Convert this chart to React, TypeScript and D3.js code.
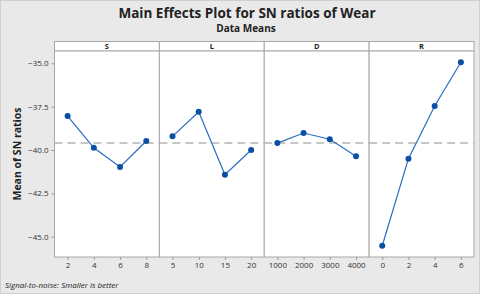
import React, { useEffect, useRef } from 'react';
import * as d3 from 'd3';

const factors = ['S', 'L', 'D', 'R'];
const levels: string[][] = [
  ['2', '4', '6', '8'],
  ['5', '10', '15', '20'],
  ['1000', '2000', '3000', '4000'],
  ['0', '2', '4', '6'],
];
const snS = [-38.04, -39.87, -40.98, -39.48];
const snL = [-39.21, -37.79, -41.42, -40.0];
const snD = [-39.6, -39.02, -39.38, -40.36];
const snR = [-45.52, -40.5, -37.46, -34.94];
const yTicks = [-35.0, -37.5, -40.0, -42.5, -45.0];

const W = 480;
const H = 294;

export default function App() {
  const svgRef = useRef<SVGSVGElement>(null);

  useEffect(() => {
    document.body.style.margin = '0';
    if (!svgRef.current) return;
    const svg = d3.select(svgRef.current);
    svg.selectAll('*').remove();

    const series = [snS, snL, snD, snR];
    const grandMean = d3.mean(series.flat()) as number;
    const font = "'Open Sans', 'DejaVu Sans', sans-serif";

    const left = 54.5, right = 474, stripTop = 41.5, top = 51, bottom = 257;

    svg.append('rect').attr('width', W).attr('height', H).attr('fill', '#e9e9e9');

    // titles
    svg.append('text').attr('x', 247).attr('y', 18).attr('text-anchor', 'middle')
      .style('font-family', font).style('font-size', '13.5px').style('font-weight', 'bold')
      .attr('fill', '#222').text('Main Effects Plot for SN ratios of Wear');
    svg.append('text').attr('x', 246).attr('y', 32).attr('text-anchor', 'middle')
      .style('font-family', font).style('font-size', '10px').style('font-weight', 'bold')
      .attr('fill', '#222').text('Data Means');

    const panelX = d3.scaleBand().domain(factors).range([left, right]).paddingInner(0).paddingOuter(0);
    const y = d3.scaleLinear().domain([-46.17, -34.29]).range([bottom, top]);

    // y axis
    const yAxis = svg.append('g').attr('transform', `translate(${left},0)`)
      .call(d3.axisLeft(y).tickValues(yTicks).tickFormat(d3.format('.1f')).tickSize(3).tickPadding(3));
    yAxis.select('.domain').remove();
    yAxis.selectAll('.tick line').attr('stroke', '#999');
    yAxis.selectAll('.tick text').attr('fill', '#333')
      .style('font-family', font).style('font-size', '8px');

    svg.append('text')
      .attr('transform', `translate(21,${(top + bottom) / 2}) rotate(-90)`)
      .attr('text-anchor', 'middle')
      .style('font-family', font).style('font-size', '10.5px').style('font-weight', 'bold')
      .attr('fill', '#222').text('Mean of SN ratios');

    factors.forEach((f, i) => {
      const x0 = panelX(f) as number;
      const bw = panelX.bandwidth();
      const g = svg.append('g');

      // strip
      g.append('rect').attr('x', x0).attr('y', stripTop).attr('width', bw).attr('height', top - stripTop)
        .attr('fill', '#fff').attr('stroke', '#a8a8a8').attr('stroke-width', 1);
      g.append('text').attr('x', x0 + bw / 2).attr('y', stripTop + 7.5).attr('text-anchor', 'middle')
        .style('font-family', font).style('font-size', '7.5px').style('font-weight', 'bold')
        .attr('fill', '#222').text(f);

      // panel
      g.append('rect').attr('x', x0).attr('y', top).attr('width', bw).attr('height', bottom - top)
        .attr('fill', '#fff').attr('stroke', '#a8a8a8').attr('stroke-width', 1);

      const x = d3.scalePoint().domain(levels[i]).range([x0, x0 + bw]).padding(0.5);

      // reference line
      g.append('line').attr('x1', x0).attr('x2', x0 + bw)
        .attr('y1', y(grandMean)).attr('y2', y(grandMean))
        .attr('stroke', '#b4b4b4').attr('stroke-width', 1.5).attr('stroke-dasharray', '8,5');

      const xAxis = g.append('g').attr('transform', `translate(0,${bottom})`)
        .call(d3.axisBottom(x).tickSize(3).tickPadding(2));
      xAxis.select('.domain').remove();
      xAxis.selectAll('.tick line').attr('stroke', '#999');
      xAxis.selectAll('.tick text').attr('fill', '#333')
        .style('font-family', font).style('font-size', '8px');

      const pts = levels[i].map((l, j) => ({ l, v: series[i][j] }));
      g.append('path').datum(pts)
        .attr('d', d3.line<{ l: string; v: number }>().x(d => x(d.l) as number).y(d => y(d.v)))
        .attr('fill', 'none').attr('stroke', '#2a6cc0').attr('stroke-width', 1.2);
      g.selectAll('circle').data(pts).enter().append('circle')
        .attr('cx', d => x(d.l) as number).attr('cy', d => y(d.v)).attr('r', 3)
        .attr('fill', '#0a4fa3');
    });

    svg.append('text').attr('x', 5).attr('y', 288)
      .style('font-family', font).style('font-size', '8px').style('font-style', 'italic')
      .attr('fill', '#222').text('Signal-to-noise: Smaller is better');

    svg.append('rect').attr('x', 0.5).attr('y', 0.5).attr('width', W - 1).attr('height', H - 1)
      .attr('fill', 'none').attr('stroke', '#cfcfcf');
  }, []);

  return <svg ref={svgRef} width={W} height={H} style={{ display: 'block' }} />;
}
